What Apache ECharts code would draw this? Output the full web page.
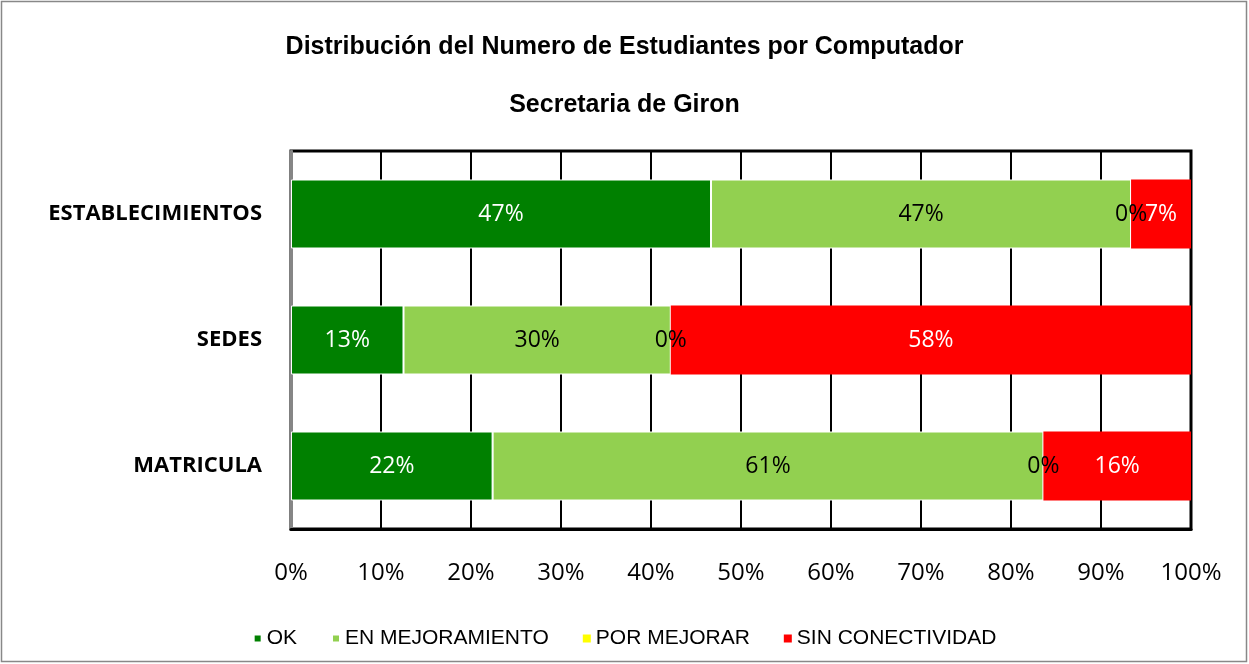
<!DOCTYPE html>
<html>
<head>
<meta charset="utf-8">
<script src="https://cdn.jsdelivr.net/npm/echarts@6/dist/echarts.min.js"></script>
<style>
html,body{margin:0;padding:0;background:#fff;}
#chart{width:1249px;height:664px;}
</style>
</head>
<body>
<div id="chart"></div>
<script>
var titleText = 'Distribución del Numero de Estudiantes por Computador';
var subtitleText = 'Secretaria de Giron';
var categories = ['MATRICULA', 'SEDES', 'ESTABLECIMIENTOS'];
var seriesNames = ['OK', 'EN MEJORAMIENTO', 'POR MEJORAR', 'SIN CONECTIVIDAD'];
var okValues = [22.4, 12.5, 46.67];
var enMejoramientoValues = [61.2, 29.7, 46.67];
var porMejorarValues = [0, 0, 0];
var sinConectividadValues = [16.4, 57.8, 6.66];
var xTicks = [0, 10, 20, 30, 40, 50, 60, 70, 80, 90, 100];

var colors = ['#008000', '#92D050', '#FFFF00', '#FF0000'];
var labelColors = ['#ffffff', '#000000', '#000000', '#ffffff'];
var valuesList = [okValues, enMejoramientoValues, porMejorarValues, sinConectividadValues];
var labelFont = '"Open Sans", Lato, sans-serif';
var arialFont = '"Liberation Sans", Arial, sans-serif';

var series = seriesNames.map(function (name, i) {
  return {
    name: name,
    type: 'bar',
    stack: 'total',
    data: valuesList[i],
    barWidth: 69,
    itemStyle: {
      color: colors[i],
      borderColor: (i < 2) ? '#ffffff' : colors[i],
      borderWidth: (i < 2) ? 1 : 0
    },
    label: {
      show: true,
      position: 'inside',
      color: labelColors[i],
      fontFamily: labelFont,
      fontSize: 23,
      formatter: function (p) { return Math.round(p.value) + '%'; }
    },
    emphasis: { disabled: true }
  };
});

var chart = echarts.init(document.getElementById('chart'), null, { renderer: 'canvas' });
chart.setOption({
  animation: false,
  backgroundColor: '#ffffff',
  title: [
    { text: titleText, left: 'center', top: 30,
      textStyle: { fontFamily: arialFont, fontWeight: 'bold', fontSize: 25, color: '#000' } },
    { text: subtitleText, left: 'center', top: 88,
      textStyle: { fontFamily: arialFont, fontWeight: 'bold', fontSize: 25, color: '#000' } }
  ],
  graphic: [
    { type: 'rect', shape: { x: 1.5, y: 1.5, width: 1245, height: 660 },
      style: { fill: null, stroke: '#888888', lineWidth: 1.5 }, silent: true, z: 100 }
  ],
  legend: {
    data: seriesNames,
    left: 'center',
    top: 623,
    icon: 'rect',
    itemWidth: 8,
    itemHeight: 8,
    itemGap: 34,
    textStyle: { fontFamily: arialFont, fontSize: 21, color: '#000' }
  },
  grid: {
    left: 291, right: 58, top: 151, bottom: 135,
    show: true, borderColor: '#000', borderWidth: 3, backgroundColor: 'transparent'
  },
  xAxis: {
    type: 'value',
    min: xTicks[0],
    max: xTicks[xTicks.length - 1],
    interval: 10,
    axisLine: { show: true, lineStyle: { color: '#000', width: 3 } },
    axisTick: { show: false },
    splitLine: { show: true, lineStyle: { color: '#000', width: 2 } },
    axisLabel: {
      margin: 32,
      color: '#000',
      fontFamily: labelFont,
      fontSize: 24,
      formatter: function (v) { return v + '%'; }
    }
  },
  yAxis: {
    type: 'category',
    data: categories,
    axisLine: { show: true, lineStyle: { color: '#868686', width: 3 } },
    axisTick: { show: false },
    axisLabel: {
      margin: 29,
      color: '#000',
      fontFamily: labelFont,
      fontWeight: 'bold',
      fontSize: 22
    }
  },
  series: series
});
</script>
</body>
</html>
